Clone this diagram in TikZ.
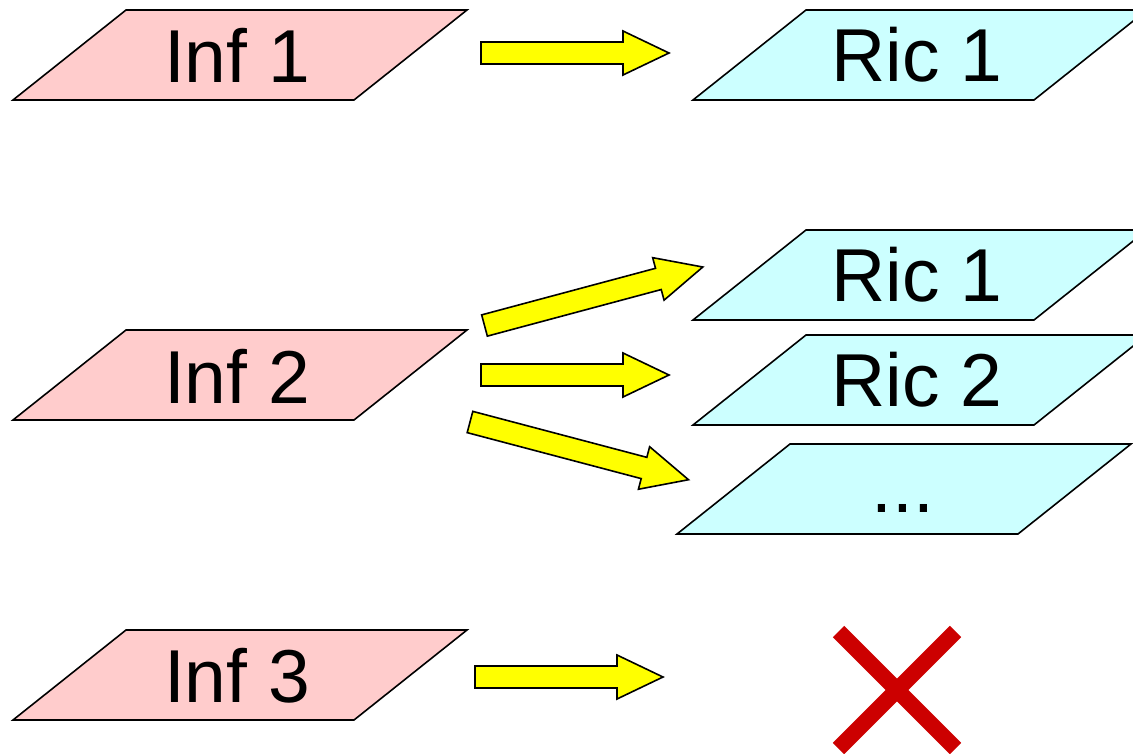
\documentclass[tikz,border=0pt]{standalone}
\usepackage{fontspec}
\setmainfont{Liberation Sans}
\definecolor{infpink}{HTML}{FFCCCC}
\definecolor{riccyan}{HTML}{CCFFFF}
\definecolor{arrowyellow}{HTML}{FFFF00}
\definecolor{crossred}{HTML}{CC0000}
\tikzset{
  pgrambox/.style={draw=black, line width=1.6, line join=miter},
  blockarrow/.style={draw=black, fill=arrowyellow, line width=1.6, line join=miter},
  lbl/.style={font=\fontsize{75}{90}\selectfont, anchor=base, inner sep=0},
}
% #1 fill, #2 x of bottom-left corner, #3 y of top edge
\newcommand\pgram[3]{\filldraw[pgrambox, fill=#1] (#2,#3+90) -- (#2+113,#3) -- (#2+454,#3) -- (#2+341,#3+90) -- cycle;}
% #1 name, #2 x, #3 y of tail centre, #4 angle, #5 length
\newcommand\blockarr[5]{\begin{scope}[shift={(#2,#3)}, rotate=#4]
  \coordinate (#1) at (0,0);
  \filldraw[blockarrow] (0,-11) -- (#5-46,-11) -- (#5-46,-22) -- (#5,0) -- (#5-46,22) -- (#5-46,11) -- (0,11) -- cycle;
\end{scope}}
\begin{document}
\begin{tikzpicture}[x=1pt, y=-1pt]
\useasboundingbox (0,0) rectangle (1133,753);
\clip (0,0) rectangle (1133,753);
% left shapes
\pgram{infpink}{13}{10}
\pgram{infpink}{13}{330}
\pgram{infpink}{13}{630}
\node[lbl] (inf1) at (237,82.5) {Inf 1};
\node[lbl] (inf2) at (237,403) {Inf 2};
\node[lbl] (inf3) at (237,702.5) {Inf 3};
% right shapes
\pgram{riccyan}{693}{10}
\pgram{riccyan}{693}{230}
\pgram{riccyan}{693}{335}
\pgram{riccyan}{677}{444}
\node[lbl] (ric1a) at (917,81) {Ric 1};
\node[lbl] (ric1b) at (917,301) {Ric 1};
\node[lbl] (ric2) at (917,406) {Ric 2};
\node[lbl] (more) at (903,512) {...};
% arrows
\blockarr{a1}{481}{53}{0}{188}
\blockarr{a2}{484.5}{325.5}{15}{226}
\blockarr{a3}{481}{375}{0}{188}
\blockarr{a4}{470}{422}{-14.8}{226}
\blockarr{a5}{475}{677}{0}{188}
% cross
\draw[crossred, line width=16] (838.5,631.5) -- (955.5,748.5);
\draw[crossred, line width=16] (955.5,631.5) -- (838.5,748.5);
\end{tikzpicture}
\end{document}
